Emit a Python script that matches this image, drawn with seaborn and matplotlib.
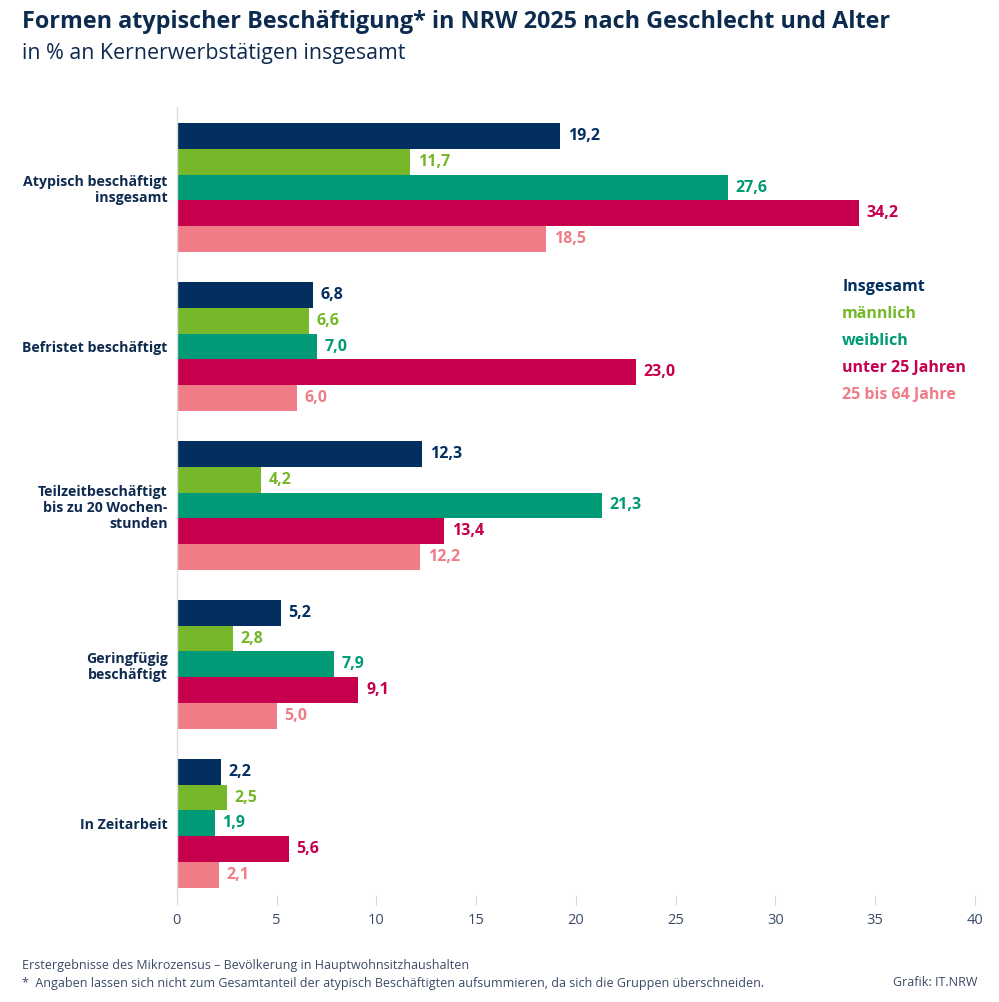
import matplotlib
matplotlib.use("Agg")
import matplotlib.pyplot as plt
import seaborn as sns
import pandas as pd

categories = ["Atypisch beschäftigt\ninsgesamt", "Befristet beschäftigt",
              "Teilzeitbeschäftigt\nbis zu 20 Wochen-\nstunden",
              "Geringfügig\nbeschäftigt", "In Zeitarbeit"]
groups = ["Insgesamt", "männlich", "weiblich", "unter 25 Jahren", "25 bis 64 Jahre"]
insgesamt = [19.2, 6.8, 12.3, 5.2, 2.2]
maennlich = [11.7, 6.6, 4.2, 2.8, 2.5]
weiblich = [27.6, 7.0, 21.3, 7.9, 1.9]
unter25 = [34.2, 23.0, 13.4, 9.1, 5.6]
jahre25_64 = [18.5, 6.0, 12.2, 5.0, 2.1]
colors = ["#022f60", "#77b82a", "#009b76", "#c6004f", "#f07c87"]
xticks = [0, 5, 10, 15, 20, 25, 30, 35, 40]

series = [insgesamt, maennlich, weiblich, unter25, jahre25_64]
rows = []
for g, vals in zip(groups, series):
    for c, v in zip(categories, vals):
        rows.append({"Kategorie": c, "Gruppe": g, "Wert": v})
df = pd.DataFrame(rows)

sns.set_theme(style="white")
plt.rcParams["font.family"] = ["Open Sans", "DejaVu Sans"]

navy = "#0d2a4f"
fig = plt.figure(figsize=(9.99, 10.02), dpi=100)
ax = fig.add_axes([0.177, 0.107, 0.799, 0.786])

sns.barplot(data=df, y="Kategorie", x="Wert", hue="Gruppe", order=categories,
            hue_order=groups, palette=colors, orient="h", width=0.81,
            saturation=1, legend=False, ax=ax, linewidth=0)

for cont, col in zip(ax.containers, colors):
    labels = [f"{v:.1f}".replace(".", ",") for v in cont.datavalues]
    ax.bar_label(cont, labels=labels, padding=5.5, color=col,
                 fontsize=11.5, fontweight="bold")

ax.set_xlim(0, 40)
ax.set_ylim(4.45, -0.506)
ax.set_xticks(xticks)
ax.set_xticklabels([str(t) for t in xticks], color="#3a4a66", fontsize=10.5)
ax.tick_params(axis="x", length=7, width=0.8, color="#d8d8d8", pad=6, bottom=True)
ax.tick_params(axis="y", length=0, pad=6.5)
for lbl in ax.get_yticklabels():
    lbl.set_fontweight("bold")
    lbl.set_color(navy)
    lbl.set_fontsize(10.2)
    lbl.set_horizontalalignment("right")
    lbl.set_multialignment("right")
ax.set_xlabel("")
ax.set_ylabel("")
for s in ["top", "right", "bottom"]:
    ax.spines[s].set_visible(False)
ax.spines["left"].set_color("#dcdcdc")
ax.spines["left"].set_linewidth(1)

# legend as colored text
for i, (g, col) in enumerate(zip(groups, colors)):
    fig.text(0.843, 1 - (287 + 27 * i) / 1002, g, color=col, fontsize=11.5,
             fontweight="bold", va="center", ha="left")

fig.text(0.022, 1 - 22 / 1002, "Formen atypischer Beschäftigung* in NRW 2025 nach Geschlecht und Alter",
         fontsize=16.8, fontweight="bold", color=navy, va="center", ha="left")
fig.text(0.022, 1 - 54 / 1002, "in % an Kernerwerbstätigen insgesamt",
         fontsize=15.4, color=navy, va="center", ha="left")

foot = "#3a4a66"
fig.text(0.022, 1 - 965 / 1002, "Erstergebnisse des Mikrozensus – Bevölkerung in Hauptwohnsitzhaushalten",
         fontsize=9, color=foot, va="center", ha="left")
fig.text(0.022, 1 - 983 / 1002, "*  Angaben lassen sich nicht zum Gesamtanteil der atypisch Beschäftigten aufsummieren, da sich die Gruppen überschneiden.",
         fontsize=9, color=foot, va="center", ha="left")
fig.text(0.978, 1 - 983 / 1002, "Grafik: IT.NRW", fontsize=9, color=foot,
         va="center", ha="right")

fig.savefig("out.png", dpi=100, facecolor="white")
